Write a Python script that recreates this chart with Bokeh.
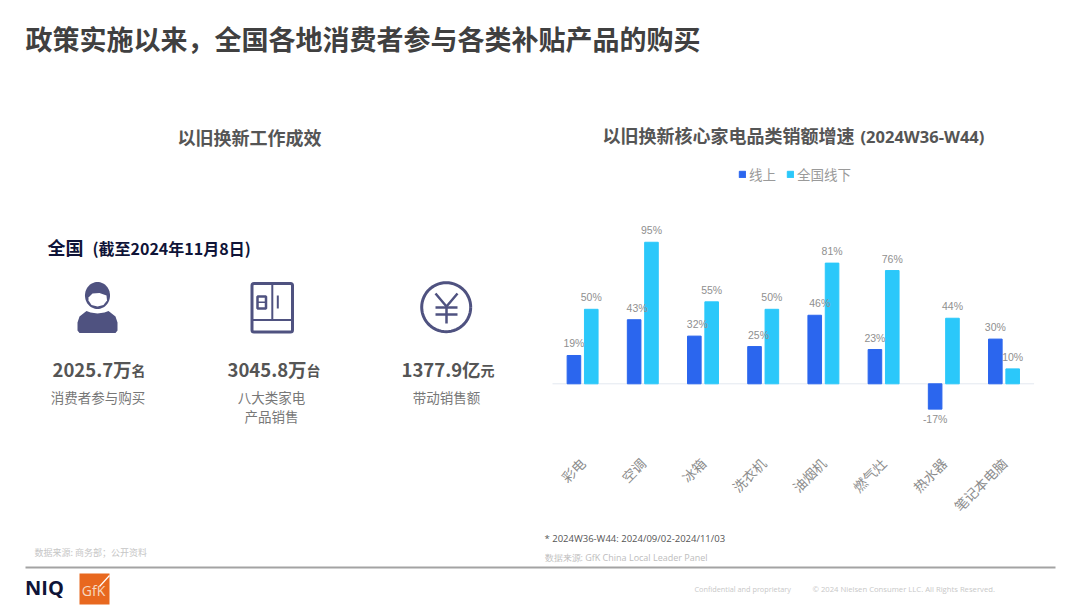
import math
from bokeh.core.properties import value
from bokeh.embed import file_html
from bokeh.models import ColumnDataSource, FixedTicker, Legend, LegendItem, LinearAxis, Range1d
from bokeh.plotting import figure
from bokeh.resources import INLINE

categories = ["彩电", "空调", "冰箱", "洗衣机", "油烟机", "燃气灶", "热水器", "笔记本电脑"]
online = [19, 43, 32, 25, 46, 23, -17, 30]
offline = [50, 95, 55, 50, 81, 76, 44, 10]
series_names = ["线上", "全国线下"]

page_title = "政策实施以来，全国各地消费者参与各类补贴产品的购买"
left_title = "以旧换新工作成效"
right_title = "以旧换新核心家电品类销额增速"
right_title_weeks = "(2024W36-W44)"
kpi_numbers = ["2025.7万", "3045.8万", "1377.9亿"]
kpi_units = ["名", "台", "元"]

CJK = "Noto Sans CJK SC"
BLUE, CYAN = "#2b66ee", "#2bc8fa"
NAVY, ICON = "#0f1438", "#4f5280"
W, H = 1080, 607
PX_PER_PCT = 1.49
ZERO_Y = 383.3
CAT_W, CAT_LEFT = 60.2, 552
AXIS_PY = 445

p = figure(width=W, height=H, output_backend="svg", toolbar_location=None,
           x_range=Range1d(-CAT_LEFT / CAT_W, (W - CAT_LEFT) / CAT_W),
           y_range=Range1d((ZERO_Y - H) / PX_PER_PCT, ZERO_Y / PX_PER_PCT),
           x_axis_location=None, y_axis_location=None, min_border=0,
           background_fill_color="white", border_fill_color="white", outline_line_color=None)
p.grid.visible = False
p.extra_x_ranges["px"] = Range1d(0, W)
p.extra_y_ranges["px"] = Range1d(H, 0)
PX = dict(x_range_name="px", y_range_name="px")

n = len(categories)
centers = [i + 0.5 for i in range(n)]
ax = LinearAxis(ticker=FixedTicker(ticks=centers),
                major_label_overrides={c: t for c, t in zip(centers, categories)},
                fixed_location=(ZERO_Y - AXIS_PY) / PX_PER_PCT,
                axis_line_color=None, major_tick_line_color=None, minor_tick_line_color=None,
                major_label_orientation=math.pi / 4, major_label_standoff=9,
                major_label_text_font=CJK, major_label_text_font_size="13.5px",
                major_label_text_color="#8c8c8c")
p.add_layout(ax, "below")

W_BAR, OFF = 0.226, 0.144
src = ColumnDataSource(dict(x_on=[c - OFF for c in centers], x_off=[c + OFF for c in centers],
                            online=online, offline=offline,
                            on_lab=[f"{v}%" for v in online], off_lab=[f"{v}%" for v in offline],
                            on_dy=[-12 if v > 0 else 10 for v in online], off_dy=[-12] * n,
                            on_dx=[0, 3, 3, 4, 5, 0, 0, 0]))
p.line([0, n], [0, 0], line_color="#e3e8f0", line_width=1)
r1 = p.vbar(x="x_on", top="online", width=W_BAR, color=BLUE, source=src)
r2 = p.vbar(x="x_off", top="offline", width=W_BAR, color=CYAN, source=src)

common = dict(text_font=value("Liberation Sans"), text_font_size="10.5px", text_color="#8f8f8f",
              text_align="center", text_baseline="middle", source=src)
p.text(x="x_on", y="online", text="on_lab", y_offset="on_dy", x_offset="on_dx", **common)
p.text(x="x_off", y="offline", text="off_lab", y_offset="off_dy", **common)

legend = Legend(items=[LegendItem(label=series_names[0], renderers=[r1]),
                       LegendItem(label=series_names[1], renderers=[r2])],
                orientation="horizontal", location=(738, 423.5), border_line_color=None,
                background_fill_alpha=0, padding=0, margin=0, spacing=10,
                glyph_width=8, glyph_height=8, label_standoff=3, label_height=16,
                label_text_font=CJK, label_text_font_size="13.5px", label_text_color="#9a9a9a")
p.add_layout(legend, "center")


def T(x, y, text, size, color, bold=False, align="left", font=CJK):
    # the CJK face sits lower in its box than the reference's, so lift it a little
    if font == CJK:
        y = y - 2
    p.text([x], [y], text=[text], text_font=value(font), text_font_size=f"{size}px", text_color=color,
           text_font_style="bold" if bold else "normal", text_align=align, text_baseline="middle", **PX)


def B(l, t, r, b, color=ICON):
    p.quad(left=[l], right=[r], top=[t], bottom=[b], fill_color=color, line_color=None, **PX)


def L(xs, ys, lw=2.5, color=ICON):
    p.line(xs, ys, line_color=color, line_width=lw, **PX)


def ell(cx, cy, rx, ry, n=60):
    a = [2 * math.pi * i / n for i in range(n + 1)]
    return [cx + rx * math.cos(t) for t in a], [cy + ry * math.sin(t) for t in a]


T(25, 40, page_title, 27, "#404040", True)
T(249, 138, left_title, 18, "#555555", True, "center")
T(602, 136, right_title, 18, "#555555", True)
T(860, 136, right_title_weeks, 16.5, "#555555", True, font="Open Sans")

T(47, 248, "全国", 18, NAVY, True)
T(92, 249, "(截至2024年11月8日)", 16, NAVY, True)

for x, num, unit in zip([52, 227, 401], kpi_numbers, kpi_units):
    T(x, 370.5, num, 18.5, "#555555", True)
    T(x + 79, 371.5, unit, 14, "#555555", True)
T(97.5, 398, "消费者参与购买", 13.5, "#777777", False, "center")
T(271, 398, "八大类家电", 13.5, "#777777", False, "center")
T(271, 417, "产品销售", 13.5, "#777777", False, "center")
T(446, 398, "带动销售额", 13.5, "#777777", False, "center")

# person icon
hx, hy = ell(97, 295, 12.5, 13.5)
p.patch(hx, hy, fill_color=ICON, line_color=None, **PX)
p.patch([88, 92, 99, 106, 106.5, 103, 97, 91, 88], [297, 293, 292.5, 295, 300, 304.5, 306, 304.5, 300],
        fill_color="white", line_color=None, **PX)
p.patch([77, 77, 79, 86, 90, 97, 104, 108, 115, 117, 117, 115, 79],
        [330, 322, 316, 310.5, 312, 313, 312, 310.5, 316, 322, 330, 332.5, 332.5],
        fill_color=ICON, line_color=None, **PX)

# fridge icon
p.quad(left=[251.5], right=[292], top=[283], bottom=[331.5], fill_color=None,
       line_color=ICON, line_width=3, border_radius=2, **PX)
B(270.8, 283, 272.8, 320)
B(251.5, 318.5, 292, 320.5)
p.quad(left=[257], right=[265.5], top=[296], bottom=[308], fill_color=None, line_color=ICON, line_width=2.5, **PX)
B(257, 301, 265.5, 302.5)
B(276.3, 295, 278.3, 308)

# yen icon
cx, cy = ell(445.7, 306.7, 24.5, 24.5)
L(cx, cy, 3)
L([435, 446, 457], [293, 306, 293])
L([435, 457], [307, 307])
L([435, 457], [314, 314])
L([446, 446], [306, 323])

# footer
T(34, 554, "数据来源: 商务部；公开资料", 9, "#c6c6c6")
T(544, 538, "* 2024W36-W44: 2024/09/02-2024/11/03", 9.5, "#555555", font="Open Sans")
T(544, 557, "数据来源: GfK China Local Leader Panel", 9, "#bdbdbd", font="Open Sans")
B(25, 566, 1055, 568, "#a3a3a3")
T(694, 588, "Confidential and proprietary", 7.3, "#c8c8c8", font="Open Sans")
T(812, 588, "© 2024 Nielsen Consumer LLC. All Rights Reserved.", 7.7, "#c8c8c8", font="Open Sans")
T(24.5, 587, "NIQ", 20, NAVY, True, font="Open Sans")
B(79, 573, 109, 604, "#e8681f")
T(93, 590, "GfK", 14, "#f6d8c2", False, "center", font="Open Sans")
L([109, 99], [575, 586], 1.2, "white")

open("out.html", "w").write(file_html(p, INLINE))
